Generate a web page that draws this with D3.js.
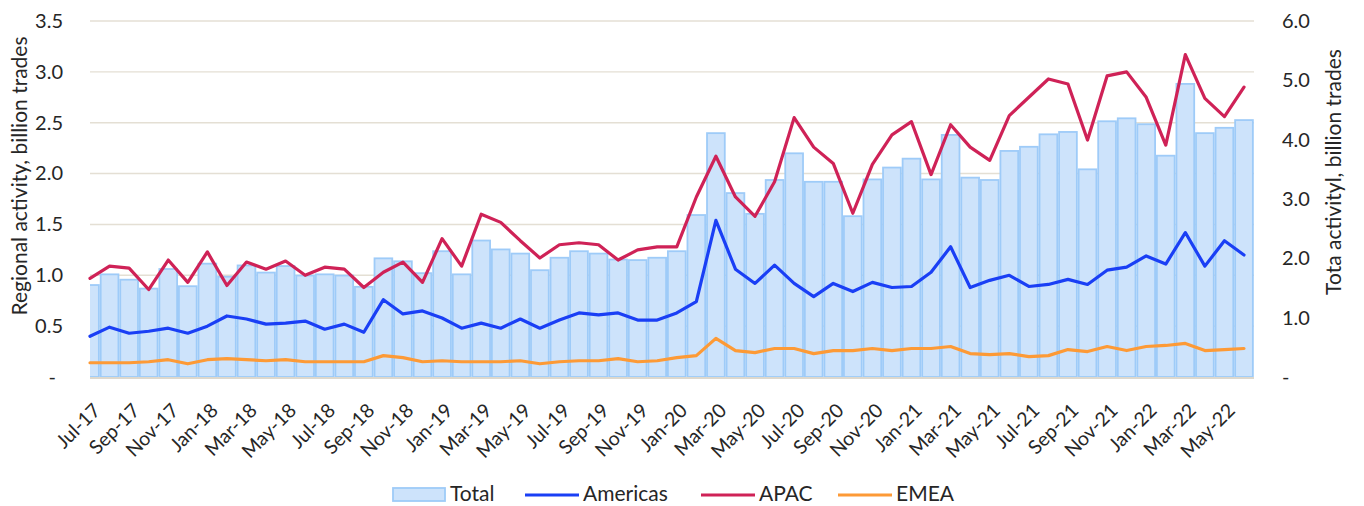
<!DOCTYPE html>
<html>
<head>
<meta charset="utf-8">
<script src="https://cdn.jsdelivr.net/npm/d3@7"></script>
<style>
  html, body { margin: 0; padding: 0; background: #ffffff; }
  svg text { font-family: Lato, "Open Sans", "Liberation Sans", sans-serif; fill: #262626; }
</style>
</head>
<body>
<svg id="chart" width="1364" height="506"></svg>
<script>
// Monthly trading activity, Jul-17 .. Jun-22
const months = [
  "Jul-17","Aug-17","Sep-17","Oct-17","Nov-17","Dec-17",
  "Jan-18","Feb-18","Mar-18","Apr-18","May-18","Jun-18",
  "Jul-18","Aug-18","Sep-18","Oct-18","Nov-18","Dec-18",
  "Jan-19","Feb-19","Mar-19","Apr-19","May-19","Jun-19",
  "Jul-19","Aug-19","Sep-19","Oct-19","Nov-19","Dec-19",
  "Jan-20","Feb-20","Mar-20","Apr-20","May-20","Jun-20",
  "Jul-20","Aug-20","Sep-20","Oct-20","Nov-20","Dec-20",
  "Jan-21","Feb-21","Mar-21","Apr-21","May-21","Jun-21",
  "Jul-21","Aug-21","Sep-21","Oct-21","Nov-21","Dec-21",
  "Jan-22","Feb-22","Mar-22","Apr-22","May-22","Jun-22"
];

// Total activity (right axis), billion trades
const total = [
  1.55,1.73,1.64,1.49,1.82,1.53,
  1.91,1.69,1.88,1.76,1.87,1.71,
  1.73,1.71,1.52,2.00,1.95,1.75,
  2.12,1.73,2.30,2.15,2.08,1.80,
  2.01,2.12,2.08,1.98,1.97,2.01,
  2.12,2.73,4.11,3.10,2.75,3.32,
  3.77,3.29,3.29,2.71,3.33,3.53,
  3.68,3.33,4.08,3.36,3.32,3.81,
  3.88,4.09,4.13,3.50,4.31,4.36,
  4.26,3.73,4.94,4.11,4.20,4.33
];

// Regional activity (left axis), billion trades
const americas = [
  0.40,0.49,0.43,0.45,0.48,0.43,
  0.50,0.60,0.57,0.52,0.53,0.55,
  0.47,0.52,0.44,0.76,0.62,0.65,
  0.58,0.48,0.53,0.48,0.57,0.48,
  0.56,0.63,0.61,0.63,0.56,0.56,
  0.63,0.74,1.54,1.06,0.92,1.10,
  0.92,0.79,0.92,0.84,0.93,0.88,
  0.89,1.03,1.28,0.88,0.95,1.00,
  0.89,0.91,0.96,0.91,1.05,1.08,
  1.19,1.11,1.42,1.09,1.34,1.20
];

const apac = [
  0.97,1.09,1.07,0.86,1.15,0.93,
  1.23,0.90,1.13,1.06,1.14,1.00,
  1.08,1.06,0.88,1.03,1.13,0.93,
  1.36,1.09,1.60,1.52,1.34,1.17,
  1.30,1.32,1.30,1.15,1.25,1.28,
  1.28,1.77,2.17,1.77,1.58,1.92,
  2.55,2.26,2.10,1.61,2.09,2.38,
  2.51,1.99,2.48,2.26,2.13,2.57,
  2.75,2.93,2.88,2.33,2.96,3.00,
  2.75,2.28,3.17,2.74,2.56,2.85
];

const emea = [
  0.14,0.14,0.14,0.15,0.17,0.13,
  0.17,0.18,0.17,0.16,0.17,0.15,
  0.15,0.15,0.15,0.21,0.19,0.15,
  0.16,0.15,0.15,0.15,0.16,0.13,
  0.15,0.16,0.16,0.18,0.15,0.16,
  0.19,0.21,0.38,0.26,0.24,0.28,
  0.28,0.23,0.26,0.26,0.28,0.26,
  0.28,0.28,0.30,0.23,0.22,0.23,
  0.20,0.21,0.27,0.25,0.30,0.26,
  0.30,0.31,0.33,0.26,0.27,0.28
];

const leftTicks = [0, 0.5, 1.0, 1.5, 2.0, 2.5, 3.0, 3.5];
const rightTicks = [0, 1, 2, 3, 4, 5, 6];
const leftTitle = "Regional activity, billion trades";
const rightTitle = "Tota activityl, billion trades";

const series = [
  { name: "Americas", values: americas, color: "#1a3ff5" },
  { name: "APAC", values: apac, color: "#cf2257" },
  { name: "EMEA", values: emea, color: "#fd9a36" }
];

const barFill = "#cde3fb";
const barStroke = "#9ecbf8";
const gridColor = "#e4dfd4";

// Plot frame
const plot = { left: 90, right: 1254, top: 21, bottom: 377 };

const svg = d3.select("#chart");

const x = d3.scalePoint()
  .domain(months)
  .range([plot.left, 1244]);
const step = x.step();

const yL = d3.scaleLinear().domain([0, 3.5]).range([plot.bottom, plot.top]);
const yR = d3.scaleLinear().domain([0, 6]).range([plot.bottom, plot.top]);

// Gridlines
svg.append("g")
  .selectAll("line")
  .data(leftTicks.filter(d => d > 0))
  .join("line")
  .attr("x1", plot.left).attr("x2", plot.right)
  .attr("y1", d => yL(d)).attr("y2", d => yL(d))
  .attr("stroke", gridColor)
  .attr("stroke-width", 1.4);

// Clip for the bars
svg.append("clipPath").attr("id", "plotClip")
  .append("rect")
  .attr("x", plot.left).attr("y", 0)
  .attr("width", plot.right - plot.left + 2).attr("height", plot.bottom);

// Total bars on the right axis
svg.append("g")
  .attr("clip-path", "url(#plotClip)")
  .selectAll("rect")
  .data(total)
  .join("rect")
  .attr("x", (d, i) => x(months[i]) - step / 2 + 0.9)
  .attr("width", step - 1.8)
  .attr("y", d => yR(d))
  .attr("height", d => yR(0) - yR(d))
  .attr("fill", barFill)
  .attr("stroke", barStroke)
  .attr("stroke-width", 1.8);

// Baseline
svg.append("line")
  .attr("x1", plot.left).attr("x2", plot.right)
  .attr("y1", yL(0) + 1).attr("y2", yL(0) + 1)
  .attr("stroke", "#ddd8cd")
  .attr("stroke-width", 2);

// Regional lines on the left axis
const line = d3.line()
  .x((d, i) => x(months[i]))
  .y(d => yL(d));

svg.append("g")
  .selectAll("path")
  .data(series)
  .join("path")
  .attr("d", s => line(s.values))
  .attr("fill", "none")
  .attr("stroke", s => s.color)
  .attr("stroke-width", 3.2)
  .attr("stroke-linejoin", "round")
  .attr("stroke-linecap", "round");

// Axis labels
const fmt = d3.format(".1f");
const leftAxis = d3.axisLeft(yL)
  .tickValues(leftTicks)
  .tickSize(0)
  .tickPadding(0)
  .tickFormat(d => d === 0 ? "-" : fmt(d));
const gL = svg.append("g")
  .attr("transform", "translate(63,0)")
  .call(leftAxis);
gL.select(".domain").remove();
gL.selectAll("text")
  .attr("font-size", 20)
  .attr("font-family", null)
  .attr("fill", "#262626")
  .attr("dx", d => d === 0 ? -7 : 0);

const rightAxis = d3.axisRight(yR)
  .tickValues(rightTicks)
  .tickSize(0)
  .tickPadding(0)
  .tickFormat(d => d === 0 ? "-" : fmt(d));
const gR = svg.append("g")
  .attr("transform", "translate(1282,0)")
  .call(rightAxis);
gR.select(".domain").remove();
gR.selectAll("text")
  .attr("font-size", 20)
  .attr("font-family", null)
  .attr("fill", "#262626");

// Category labels, every other month
svg.append("g")
  .selectAll("text")
  .data(months.filter((m, i) => i % 2 === 0))
  .join("text")
  .attr("transform", m => `translate(${x(m) + 7},${plot.bottom + 30}) rotate(-45)`)
  .attr("text-anchor", "end")
  .attr("dy", "0.35em")
  .attr("font-size", 19.5)
  .text(m => m);

// Axis titles
svg.append("text")
  .attr("transform", "translate(27,176) rotate(-90)")
  .attr("text-anchor", "middle")
  .attr("font-size", 21)
  .text(leftTitle);

svg.append("text")
  .attr("transform", "translate(1341,172) rotate(-90)")
  .attr("text-anchor", "middle")
  .attr("font-size", 21)
  .text(rightTitle);

// Legend
const legend = svg.append("g").attr("transform", "translate(0,495)");
legend.append("rect")
  .attr("x", 393).attr("y", -7).attr("width", 52).attr("height", 13)
  .attr("fill", barFill).attr("stroke", barStroke).attr("stroke-width", 1.8);
legend.append("text").attr("x", 450).attr("y", 6)
  .attr("font-size", 21).text("Total");

const legendX = [525, 701, 838];
series.forEach((s, k) => {
  legend.append("line")
    .attr("x1", legendX[k]).attr("x2", legendX[k] + 54)
    .attr("y1", 0).attr("y2", 0)
    .attr("stroke", s.color).attr("stroke-width", 3);
  legend.append("text")
    .attr("x", legendX[k] + 58).attr("y", 6)
    .attr("font-size", 21).text(s.name);
});
</script>
</body>
</html>
